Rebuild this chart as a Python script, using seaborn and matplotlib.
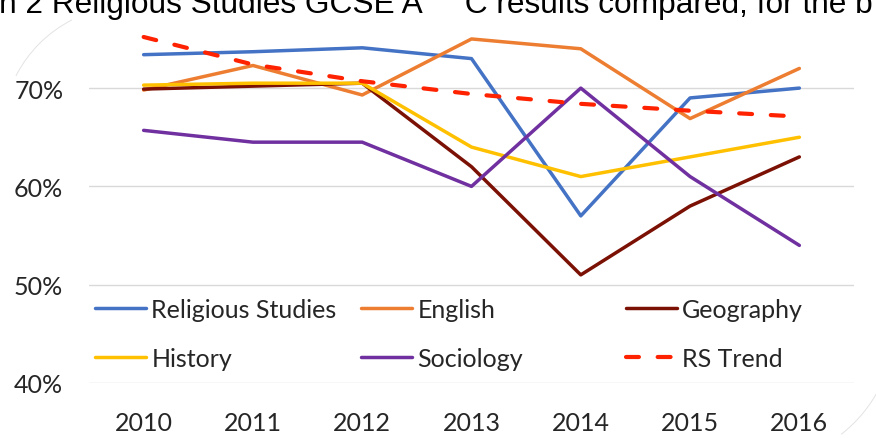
import matplotlib
matplotlib.use("Agg")
import matplotlib.pyplot as plt
from matplotlib import patches
import seaborn as sns
import pandas as pd

years = [2010, 2011, 2012, 2013, 2014, 2015, 2016]
religious_studies = [73.4, 73.7, 74.1, 73.0, 57.0, 69.0, 70.0]
english = [69.8, 72.3, 69.3, 75.0, 74.0, 66.9, 72.0]
geography = [69.9, 70.2, 70.5, 62.0, 51.0, 58.0, 63.0]
history = [70.3, 70.5, 70.5, 64.0, 61.0, 63.0, 65.0]
sociology = [65.7, 64.5, 64.5, 60.0, 70.0, 61.0, 54.0]
rs_trend = [75.2, 72.4, 70.7, 69.4, 68.4, 67.7, 67.1]

series_names = ["Religious Studies", "English", "Geography", "History", "Sociology", "RS Trend"]
series_values = [religious_studies, english, geography, history, sociology, rs_trend]
colors = ["#4472C4", "#ED7D31", "#7B1105", "#FFC000", "#7030A0", "#FF2200"]
y_ticks = [40, 50, 60, 70]
title_text = "n 2 Religious Studies GCSE A     C results compared, for the b"

sns.set_theme(style="white")
plt.rcParams["font.family"] = ["Lato", "DejaVu Sans"]

W, H = 876, 439
fig = plt.figure(figsize=(W / 100, H / 100), dpi=100)

# cropped chart: plot area placed in pixel terms
ax_left, ax_right, ax_bottom = 89, 854, 384
y_lo, y_hi = 40, 78
px_per_unit = 98.3 / 10
ax_top = ax_bottom - (y_hi - y_lo) * px_per_unit
ax = fig.add_axes([ax_left / W, (H - ax_bottom) / H, (ax_right - ax_left) / W, (ax_bottom - ax_top) / H])

df = pd.DataFrame({"year": years})
for name, vals in zip(series_names, series_values):
    df[name] = vals

for i, (name, col) in enumerate(zip(series_names, colors)):
    if name == "RS Trend":
        sns.lineplot(data=df, x="year", y=name, ax=ax, color=col, linewidth=3.0,
                     dashes=False, zorder=10 + i)
        ln = ax.get_lines()[-1]
        ln.set_dashes((3.1, 4.5))
        ln.set_dash_capstyle("round")
    else:
        sns.lineplot(data=df, x="year", y=name, ax=ax, color=col, linewidth=2.5, zorder=10 + i)

ax.set_xlim(years[0] - 0.5, years[-1] + 0.5)
ax.set_ylim(y_lo, y_hi)
ax.set_yticks(y_ticks)
ax.set_yticklabels([f"{v}%" for v in y_ticks])
ax.set_xticks(years)
ax.set_xticklabels([str(y) for y in years])
ax.set_xlabel("")
ax.set_ylabel("")
ax.grid(axis="y", color="#d9d9d9", linewidth=1.0)
ax.grid(axis="x", visible=False)
for s in ax.spines.values():
    s.set_visible(False)
ax.tick_params(axis="y", length=0, pad=18.5, labelsize=18, labelcolor="#262626")
ax.tick_params(axis="x", length=0, pad=20, labelsize=18, labelcolor="#262626")

# legend: three columns placed like the original, filled row-wise
lines = ax.get_lines()
handles = dict(zip(series_names, lines))
columns = [(95, ["Religious Studies", "History"]),
           (361, ["English", "Sociology"]),
           (626, ["Geography", "RS Trend"])]
legends = []
for x0, names in columns:
    leg = ax.legend([handles[n] for n in names], names, loc="center left",
                    bbox_to_anchor=(x0 / W, (H - 335) / H), bbox_transform=fig.transFigure,
                    frameon=False, fontsize=18, handlelength=2.05, handletextpad=0.2,
                    labelspacing=1.05, borderpad=0, borderaxespad=0)
    for t in leg.get_texts():
        t.set_color("#262626")
    legends.append(leg)
for leg in legends[:-1]:
    ax.add_artist(leg)

# clipped title line from the page above
fig.text(-0.001, 1 - 13 / H, title_text, ha="left", va="baseline", fontsize=22.8,
         family="Liberation Sans", color="black")

# faint rounded border corners of the chart box
deco = fig.add_axes([0, 0, 1, 1], zorder=-1)
deco.set_xlim(0, W)
deco.set_ylim(H, 0)
deco.axis("off")
deco.add_patch(patches.Arc((130, 135), 256, 256, theta1=207, theta2=243, color="#e3e3e3", lw=0.7))
deco.add_patch(patches.Arc((755, 325), 280, 280, theta1=27, theta2=52, color="#e3e3e3", lw=0.7))

fig.savefig("out.png", dpi=100)
